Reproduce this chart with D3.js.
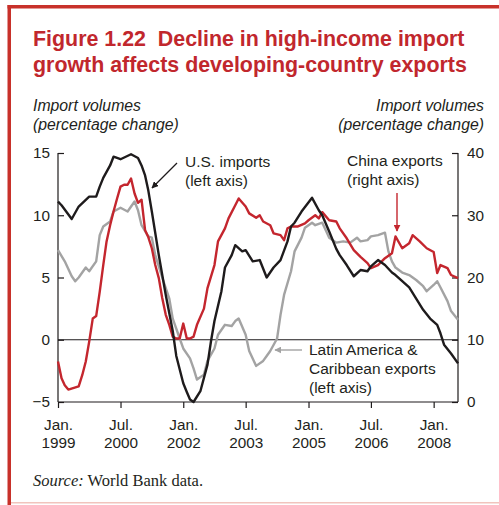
<!DOCTYPE html>
<html><head><meta charset="utf-8">
<script src="https://cdn.jsdelivr.net/npm/d3@7"></script>
<style>
html,body{margin:0;padding:0;background:#fff;}
svg{display:block;}
text{font-family:"Liberation Sans",Arial,sans-serif;fill:#231f20;}
</style></head>
<body>
<svg id="chart" width="499" height="505"></svg>
<script>
// ---- data (months since Jan 1999) ----
const usMonths = [0,1,4,6,9,11,12,13,15,16,18,21,23,24,25,26,27,29,31,33,34,36,37,38,39,41,43,44,45,47,48,50,51,53,54,56,58,60,62,64,66,67,68,70,73,75,76,78,80,81,83,85,87,89,90,92,94,96,97,99,101,103,105,107,109,110,111,113,115];
const usImports = [11.1,10.8,9.7,10.7,11.5,11.5,12.3,13.0,14.0,14.7,14.5,14.9,14.6,14.0,13.2,12.0,10.3,6.8,3.6,0.7,-1.3,-3.5,-4.2,-4.8,-5.0,-4.1,-2.0,-0.1,1.5,3.9,5.8,6.8,7.6,7.1,7.2,6.3,6.4,5.0,5.8,6.4,7.9,9.1,9.4,10.3,11.4,10.4,10.0,8.7,7.3,6.8,6.0,5.1,5.6,5.5,5.9,6.4,6.0,5.4,5.2,4.7,4.2,3.3,2.4,1.7,1.2,0.5,-0.4,-1.1,-1.9];

const laMonths = [0,2,4,5,6,8,9,11,12,13,15,16,18,20,22,23,24,26,27,28,30,32,33,35,36,38,39,40,42,43,45,46,48,50,51,52,54,55,57,59,60,61,63,64,65,67,68,70,71,73,74,76,77,78,80,82,84,86,87,89,90,92,94,95,96,97,99,101,103,105,106,108,109,110,112,113,115];
const laExports = [7.2,6.3,5.1,4.7,5.0,5.8,5.5,6.3,8.4,9.1,9.5,10.3,10.6,10.3,11.1,10.4,9.2,8.3,8.2,6.8,5.0,3.3,1.7,0.1,-0.7,-1.5,-2.3,-3.2,-2.8,-1.7,-0.7,0.4,1.2,1.1,1.5,1.7,0.4,-0.9,-2.1,-1.7,-1.3,-0.9,0.1,2.0,3.6,5.5,7.1,8.2,9.0,9.4,9.2,9.4,8.8,8.2,7.8,7.9,7.8,8.2,7.9,8.0,8.3,8.4,8.6,7.1,6.3,5.8,5.4,5.2,4.8,4.3,3.9,4.4,4.7,4.2,3.1,2.3,1.6];

const cnMonths = [0,1,2,3,6,7,8,9,10,11,12,13,14,15,16,17,18,19,20,21,22,23,24,25,26,27,28,29,30,31,32,33,34,35,36,37,38,39,40,42,43,45,46,48,49,51,52,54,55,57,58,59,61,62,64,65,66,67,69,71,72,74,75,76,78,80,81,83,85,87,89,90,92,94,96,97,99,101,102,104,106,108,109,110,112,113,115];
const cnExports = [6.5,3.8,2.7,2.0,2.5,4.3,6.5,9.7,13.4,13.8,17.7,22.0,25.8,28.4,30.6,32.7,34.6,34.9,34.9,35.9,33.5,32.0,32.5,27.6,26.5,24.7,22.0,19.9,16.7,14.0,12.4,10.5,10.2,10.2,12.6,10.2,10.2,10.5,12.4,15.0,18.3,22.0,25.8,27.9,29.5,31.6,32.7,31.4,30.3,29.6,30.0,29.0,28.4,27.1,26.8,26.0,27.9,28.2,28.2,28.7,29.2,30.0,29.5,30.5,29.2,29.0,27.9,26.3,24.4,23.3,22.3,21.5,22.0,23.1,23.9,26.6,24.7,25.5,26.8,25.8,24.7,24.1,20.7,22.0,21.5,20.4,19.9];

const xTickMonths = [0,18,36,54,72,90,108];
const xTickLabels = [["Jan.","1999"],["Jul.","2000"],["Jan.","2002"],["Jul.","2003"],["Jan.","2005"],["Jul.","2006"],["Jan.","2008"]];
const leftTicks = [-5,0,5,10,15];
const rightTicks = [0,10,20,30,40];

const RED = "#c4262e", BLACK = "#1e1b1c", GREY = "#a3a3a3", TITLE = "#c1272d";
const start = new Date(1999,0,1);
const toDate = m => d3.timeMonth.offset(start, m);

const svg = d3.select("#chart");
svg.append("rect").attr("width",499).attr("height",505).attr("fill","#fff");

// frame
svg.append("rect").attr("x",7.5).attr("y",5).attr("width",3.5).attr("height",500).attr("fill","#c8312a");
svg.append("rect").attr("x",7.5).attr("y",5).attr("width",492).attr("height",3.5).attr("fill","#c8312a");
svg.append("rect").attr("x",11).attr("y",502).attr("width",488).attr("height",1.5).attr("fill","#f1c4bd");

// title
const title = svg.append("text").style("font-weight","bold").style("font-size","21.4px").style("fill",TITLE);
title.append("tspan").attr("x",33).attr("y",46).text("Figure 1.22\u00a0\u00a0Decline in high-income import");
title.append("tspan").attr("x",33).attr("y",72).text("growth affects developing-country exports");

// axis titles
const atl = svg.append("text").style("font-style","italic").style("font-size","15.8px");
atl.append("tspan").attr("x",33).attr("y",111).text("Import volumes");
atl.append("tspan").attr("x",33).attr("y",130).text("(percentage change)");
const atr = svg.append("text").style("font-style","italic").style("font-size","15.8px").attr("text-anchor","end");
atr.append("tspan").attr("x",484).attr("y",111).text("Import volumes");
atr.append("tspan").attr("x",484).attr("y",130).text("(percentage change)");

const L = 58, R = 458, T = 153, B = 402;
const x = d3.scaleTime().domain([toDate(0), toDate(115)]).range([L, R]);
const yL = d3.scaleLinear().domain([-5,15]).range([B, T]);
const yR = d3.scaleLinear().domain([0,40]).range([B, T]);
const FS = "15.3px";

// left axis
const gl = svg.append("g").attr("transform",`translate(${L},0)`)
  .call(d3.axisRight(yL).tickValues(leftTicks).tickSize(6).tickFormat(d => d < 0 ? "\u2212" + Math.abs(d) : d));
gl.select(".domain").attr("stroke",BLACK).attr("stroke-width",1.2).attr("d",`M0,${T}V${B}`);
gl.selectAll(".tick line").attr("stroke",BLACK).attr("stroke-width",1.2);
gl.selectAll(".tick text").attr("x",-8).attr("text-anchor","end").style("font-size",FS).attr("fill","#231f20");

// right axis
const gr = svg.append("g").attr("transform",`translate(${R},0)`)
  .call(d3.axisLeft(yR).tickValues(rightTicks).tickSize(6));
gr.select(".domain").attr("stroke",BLACK).attr("stroke-width",1.2).attr("d",`M0,${T}V${B}`);
gr.selectAll(".tick line").attr("stroke",BLACK).attr("stroke-width",1.2);
gr.selectAll(".tick text").attr("x",9).attr("text-anchor","start").style("font-size",FS).attr("fill","#231f20");

// bottom axis
const gb = svg.append("g").attr("transform",`translate(0,${B})`)
  .call(d3.axisBottom(x).tickValues(xTickMonths.map(toDate)).tickSize(6).tickFormat(""));
gb.select(".domain").attr("stroke",BLACK).attr("stroke-width",1.2).attr("d",`M${L},0H${R}`);
gb.selectAll(".tick line").attr("stroke",BLACK).attr("stroke-width",1.2);
gb.selectAll(".tick text").remove();
gb.selectAll(".tick").each(function(d,i){
  const t = d3.select(this).append("text").attr("text-anchor","middle").style("font-size",FS).attr("fill","#231f20");
  t.append("tspan").attr("x",0).attr("y",28).text(xTickLabels[i][0]);
  t.append("tspan").attr("x",0).attr("y",46).text(xTickLabels[i][1]);
});
svg.selectAll(".tick text").style("font-family","'Liberation Sans',Arial,sans-serif");

// zero line
svg.append("line").attr("x1",L).attr("x2",R).attr("y1",yL(0)).attr("y2",yL(0)).attr("stroke",BLACK).attr("stroke-width",1.2);

// lines
const line = (ys, yScale) => d3.line().x(d => x(toDate(d[0]))).y(d => yScale(d[1]))(ys);
const zip = (a,b) => a.map((m,i)=>[m,b[i]]);
svg.append("path").attr("d", line(zip(laMonths,laExports), yL)).attr("fill","none").attr("stroke",GREY).attr("stroke-width",2.4).attr("stroke-linejoin","round");
svg.append("path").attr("d", line(zip(cnMonths,cnExports), yR)).attr("fill","none").attr("stroke",RED).attr("stroke-width",2.4).attr("stroke-linejoin","round");
svg.append("path").attr("d", line(zip(usMonths,usImports), yL)).attr("fill","none").attr("stroke",BLACK).attr("stroke-width",2.4).attr("stroke-linejoin","round");

// arrows
const defs = svg.append("defs");
[["aBlack",BLACK],["aRed",RED],["aGrey",GREY]].forEach(([id,c])=>{
  defs.append("marker").attr("id",id).attr("viewBox","0 0 10 10").attr("refX",9).attr("refY",5)
    .attr("markerWidth",7).attr("markerHeight",7).attr("markerUnits","userSpaceOnUse").attr("orient","auto")
    .append("path").attr("d","M0,0L10,5L0,10z").attr("fill",c);
});
svg.append("line").attr("x1",177).attr("y1",163).attr("x2",152).attr("y2",188).attr("stroke",BLACK).attr("stroke-width",1.2).attr("marker-end","url(#aBlack)");
svg.append("line").attr("x1",397).attr("y1",193).attr("x2",397).attr("y2",231).attr("stroke",RED).attr("stroke-width",1.4).attr("marker-end","url(#aRed)");
svg.append("line").attr("x1",302).attr("y1",350).attr("x2",275).attr("y2",350).attr("stroke",GREY).attr("stroke-width",1.4).attr("marker-end","url(#aGrey)");

// annotations
const ann = (xx, yy, lines) => {
  const t = svg.append("text").style("font-size","15.5px");
  lines.forEach((s,i)=>t.append("tspan").attr("x",xx).attr("y",yy+i*19).text(s));
};
ann(185,167,["U.S. imports","(left axis)"]);
ann(347,166,["China exports","(right axis)"]);
ann(309,355,["Latin America &","Caribbean exports","(left axis)"]);

// source
const src = svg.append("text").attr("x",33).attr("y",486).style("font-family","'Liberation Serif','Times New Roman',serif").style("font-size","16.5px");
src.append("tspan").style("font-style","italic").style("font-family","'Liberation Serif','Times New Roman',serif").text("Source:");
src.append("tspan").style("font-family","'Liberation Serif','Times New Roman',serif").text(" World Bank data.");
</script>
</body></html>
